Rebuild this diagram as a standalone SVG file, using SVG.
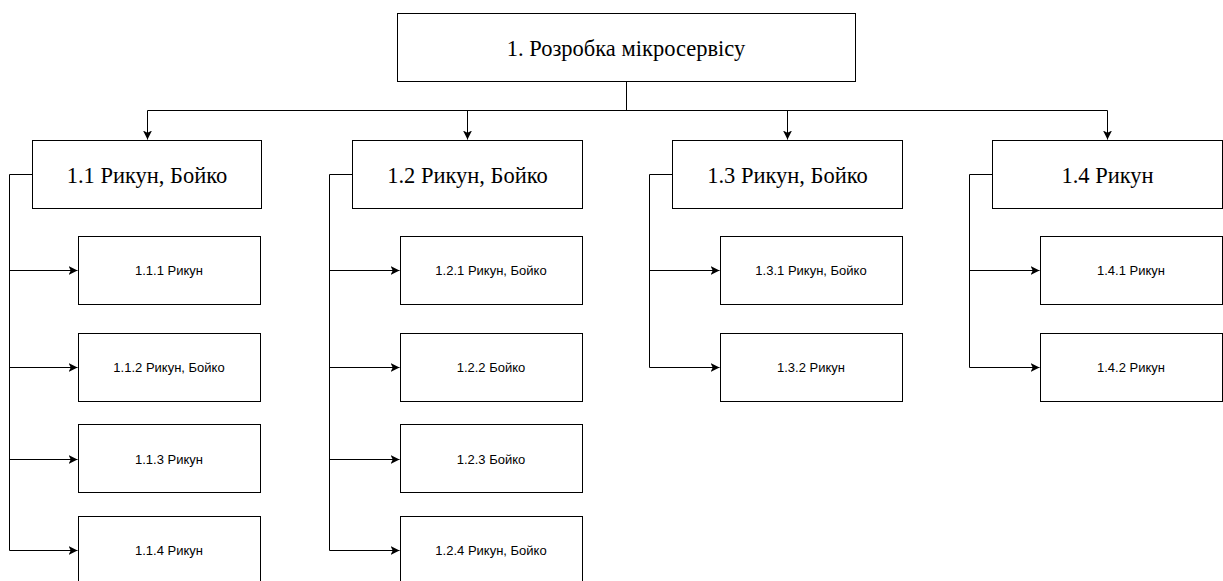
<svg xmlns="http://www.w3.org/2000/svg" width="1223" height="581" viewBox="0 0 1223 581">
  <style>
    .box { fill: #ffffff; stroke: #000000; stroke-width: 1; }
    .edge { fill: none; stroke: #000000; stroke-width: 1; }
    .t-root { font-family: "Liberation Serif", "Times New Roman", serif; font-size: 22.5px; fill: #000; text-anchor: middle; dominant-baseline: central; }
    .t-mid { font-family: "Liberation Serif", "Times New Roman", serif; font-size: 22.5px; fill: #000; text-anchor: middle; dominant-baseline: central; }
    .t-leaf { font-family: "Liberation Sans", Arial, sans-serif; font-size: 13px; fill: #000; text-anchor: middle; dominant-baseline: central; }
  </style>
  <defs>
    <marker id="arrow" viewBox="0 0 10 10" refX="10" refY="5" markerWidth="9" markerHeight="9" markerUnits="userSpaceOnUse" orient="auto">
      <path d="M0,0 L10,5 L0,10 L2.5,5 Z" fill="#000000"/>
    </marker>
  </defs>

  <rect width="1223" height="581" fill="#ffffff"/>

  <!-- connectors -->
  <g id="connectors">
    <!-- root to second level -->
    <path class="edge" d="M626.5,81.5 V110.5"/>
    <path class="edge" d="M147.5,110.5 H1107.5"/>
    <path class="edge" d="M147.5,110.5 V139.5" marker-end="url(#arrow)"/>
    <path class="edge" d="M467.5,110.5 V139.5" marker-end="url(#arrow)"/>
    <path class="edge" d="M787.5,110.5 V139.5" marker-end="url(#arrow)"/>
    <path class="edge" d="M1107.5,110.5 V139.5" marker-end="url(#arrow)"/>

    <!-- 1.1 branch -->
    <path class="edge" d="M32.5,174.5 H9.5 V550.5"/>
    <path class="edge" d="M9.5,270.5 H77.5" marker-end="url(#arrow)"/>
    <path class="edge" d="M9.5,367.5 H77.5" marker-end="url(#arrow)"/>
    <path class="edge" d="M9.5,459.5 H77.5" marker-end="url(#arrow)"/>
    <path class="edge" d="M9.5,550.5 H77.5" marker-end="url(#arrow)"/>

    <!-- 1.2 branch -->
    <path class="edge" d="M352.5,174.5 H329.5 V550.5"/>
    <path class="edge" d="M329.5,270.5 H399.5" marker-end="url(#arrow)"/>
    <path class="edge" d="M329.5,367.5 H399.5" marker-end="url(#arrow)"/>
    <path class="edge" d="M329.5,459.5 H399.5" marker-end="url(#arrow)"/>
    <path class="edge" d="M329.5,550.5 H399.5" marker-end="url(#arrow)"/>

    <!-- 1.3 branch -->
    <path class="edge" d="M672.5,174.5 H649.5 V367.5"/>
    <path class="edge" d="M649.5,270.5 H719.5" marker-end="url(#arrow)"/>
    <path class="edge" d="M649.5,367.5 H719.5" marker-end="url(#arrow)"/>

    <!-- 1.4 branch -->
    <path class="edge" d="M992.5,174.5 H969.5 V367.5"/>
    <path class="edge" d="M969.5,270.5 H1039.5" marker-end="url(#arrow)"/>
    <path class="edge" d="M969.5,367.5 H1039.5" marker-end="url(#arrow)"/>
  </g>

  <!-- root -->
  <g id="n1">
    <rect class="box" x="397.5" y="13.5" width="458" height="68"/>
    <text class="t-root" x="626" y="48">1. Розробка мікросервісу</text>
  </g>

  <!-- second level -->
  <g id="n1-1">
    <rect class="box" x="32.5" y="140.5" width="229" height="68"/>
    <text class="t-mid" x="147" y="175.5">1.1 Рикун, Бойко</text>
  </g>
  <g id="n1-2">
    <rect class="box" x="352.5" y="140.5" width="230" height="68"/>
    <text class="t-mid" x="467.5" y="175.5">1.2 Рикун, Бойко</text>
  </g>
  <g id="n1-3">
    <rect class="box" x="672.5" y="140.5" width="230" height="68"/>
    <text class="t-mid" x="787.5" y="175.5">1.3 Рикун, Бойко</text>
  </g>
  <g id="n1-4">
    <rect class="box" x="992.5" y="140.5" width="230" height="68"/>
    <text class="t-mid" x="1107.5" y="175.5">1.4 Рикун</text>
  </g>

  <!-- 1.1 children -->
  <g id="n1-1-1">
    <rect class="box" x="78.5" y="236.5" width="182" height="68"/>
    <text class="t-leaf" x="169" y="270.5">1.1.1 Рикун</text>
  </g>
  <g id="n1-1-2">
    <rect class="box" x="78.5" y="333.5" width="182" height="68"/>
    <text class="t-leaf" x="169" y="367.5">1.1.2 Рикун, Бойко</text>
  </g>
  <g id="n1-1-3">
    <rect class="box" x="78.5" y="424.5" width="182" height="68"/>
    <text class="t-leaf" x="169" y="459">1.1.3 Рикун</text>
  </g>
  <g id="n1-1-4">
    <rect class="box" x="78.5" y="516.5" width="182" height="68"/>
    <text class="t-leaf" x="169" y="550.5">1.1.4 Рикун</text>
  </g>

  <!-- 1.2 children -->
  <g id="n1-2-1">
    <rect class="box" x="400.5" y="236.5" width="182" height="68"/>
    <text class="t-leaf" x="491" y="270.5">1.2.1 Рикун, Бойко</text>
  </g>
  <g id="n1-2-2">
    <rect class="box" x="400.5" y="333.5" width="182" height="68"/>
    <text class="t-leaf" x="491" y="367.5">1.2.2 Бойко</text>
  </g>
  <g id="n1-2-3">
    <rect class="box" x="400.5" y="424.5" width="182" height="68"/>
    <text class="t-leaf" x="491" y="459">1.2.3 Бойко</text>
  </g>
  <g id="n1-2-4">
    <rect class="box" x="400.5" y="516.5" width="182" height="68"/>
    <text class="t-leaf" x="491" y="550.5">1.2.4 Рикун, Бойко</text>
  </g>

  <!-- 1.3 children -->
  <g id="n1-3-1">
    <rect class="box" x="720.5" y="236.5" width="182" height="68"/>
    <text class="t-leaf" x="811" y="270.5">1.3.1 Рикун, Бойко</text>
  </g>
  <g id="n1-3-2">
    <rect class="box" x="720.5" y="333.5" width="182" height="68"/>
    <text class="t-leaf" x="811" y="367.5">1.3.2 Рикун</text>
  </g>

  <!-- 1.4 children -->
  <g id="n1-4-1">
    <rect class="box" x="1040.5" y="236.5" width="182" height="68"/>
    <text class="t-leaf" x="1131" y="270.5">1.4.1 Рикун</text>
  </g>
  <g id="n1-4-2">
    <rect class="box" x="1040.5" y="333.5" width="182" height="68"/>
    <text class="t-leaf" x="1131" y="367.5">1.4.2 Рикун</text>
  </g>
</svg>
